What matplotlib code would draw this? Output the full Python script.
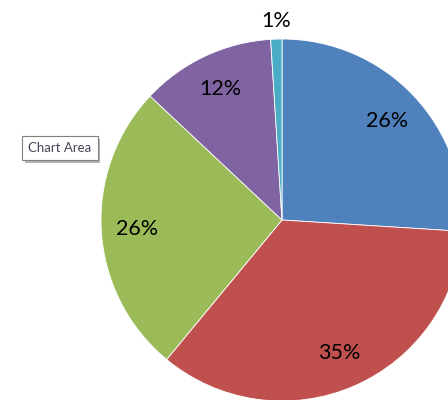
import numpy as np
import matplotlib.pyplot as plt
import matplotlib.patheffects as pe

values = [26, 35, 26, 12, 1]
labels = ['26%', '35%', '26%', '12%', '1%']
colors = ['#4F81BD', '#C0504D', '#9BBB59', '#8064A2', '#4BACC6']

plt.rcParams['font.family'] = ['Lato', 'DejaVu Sans']

fig = plt.figure(figsize=(4.48, 4.0), dpi=100)
ax = fig.add_axes([0, 0, 1, 1])

wedges, _ = ax.pie(values, colors=colors, startangle=90, counterclock=False,
                   radius=1.0, wedgeprops=dict(edgecolor='white', linewidth=0.6))

for w, lab, v in zip(wedges, labels, values):
    mid = np.deg2rad((w.theta1 + w.theta2) / 2)
    dist = 0.8 if v > 3 else 1.1
    ax.text(dist * np.cos(mid), dist * np.sin(mid), lab, ha='center', va='center',
            fontsize=15.5, color='black')

# centre of pie sits at pixel (282, 220) from top-left, radius 181 px
ax.set_xlim(-282 / 181, (448 - 282) / 181)
ax.set_ylim((220 - 400) / 181, 220 / 181)
ax.set_aspect('equal')
ax.axis('off')

# tooltip "Chart Area"
tip = fig.text(60 / 448, 1 - 148 / 400, 'Chart Area', ha='center', va='center',
               fontsize=9.5, color='#46465a',
               bbox=dict(boxstyle='square,pad=0.45', fc='white', ec='#808080', lw=0.8))
tip.get_bbox_patch().set_path_effects([
    pe.SimplePatchShadow(offset=(2, -2), shadow_rgbFace='#a0a0a0', alpha=0.8),
    pe.Normal(),
])

fig.savefig('out.png', dpi=100)
